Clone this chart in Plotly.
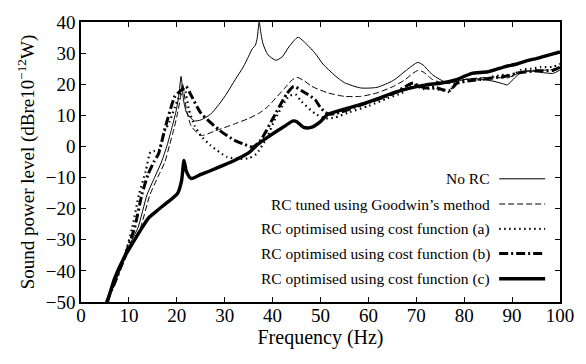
import plotly.graph_objects as go

# ---- data ----
f_norc = [5.4, 7, 8.9, 10.5, 11.9, 13.8, 15.5, 16.8, 18.0, 18.9, 19.8, 20.4, 20.9, 21.4, 22.0, 23.0, 23.7,
          25, 27, 28.8, 30.5, 32.2, 33.9, 35.0, 35.8, 36.4, 36.8, 37.2, 37.6, 38.0, 39.0, 40.7, 42.0, 43.4,
          45.3, 47.0, 48.9, 50.5, 53.0, 55.0, 58.4, 61.8, 65.2, 68.0, 70.3, 71.4, 73.4, 76.5, 78, 80, 82, 84,
          86, 88, 89, 90.5, 92, 94, 96, 98.6, 100]
v_norc = [-50, -44, -36.7, -30.5, -26.1, -15.5, -9.5, -5, 0.5, 5.6, 11, 16.1, 22.5, 15, 11, 9, 8.2,
          8.5, 10.3, 13.5, 17.2, 21.5, 25.6, 29, 31.5, 32.5, 35, 40, 36, 33, 29.5, 27.7, 28.8, 32,
          35.1, 33, 29.9, 26.5, 22.8, 20.5, 18.8, 19.0, 21.2, 24.6, 27, 26.2, 23, 20.4, 20.8, 21.5, 21.8, 21.5,
          21, 20.2, 19.8, 22, 24, 24.2, 23.8, 23.5, 24.6]

f_good = [5.4, 7, 9.1, 10.8, 12.4, 14.4, 16.0, 17.5, 18.5, 19.4, 20.2, 20.8, 21.2, 22.0, 23.0, 25.0, 28.0,
          31.8, 35.0, 37.3, 39.0, 40.7, 42.5, 44.1, 45.1, 46.5, 48.2, 51.6, 55.0, 58.4, 61.8, 65.2, 67.5,
          69.3, 70.3, 71.4, 73.4, 76.0, 78, 80, 83, 86, 89, 92, 95, 98, 100]
v_good = [-50, -44, -36.7, -30.5, -26.1, -15.5, -10, -5, 0.5, 5.6, 11, 16.1, 20.3, 12, 6.6, 3.5, 5,
          7.1, 9, 10.8, 12.8, 15.6, 18.7, 21.4, 22.2, 21.2, 19.3, 17.2, 16.1, 16.1, 17.2, 19.3, 21.3,
          23.5, 24.4, 24.0, 21.5, 20.2, 20.6, 21.5, 22, 22.3, 22, 24, 24.5, 24.6, 25.5]

f_a = [5.3, 7, 8.8, 10.7, 12.1, 13.5, 14.5, 15.2, 16.2, 17.5, 18.5, 20.2, 21.6, 22.5, 23.7, 25, 27, 30.5,
       33.2, 35, 36.6, 38.5, 40.7, 43.4, 44.8, 46, 48.9, 51, 53, 56, 60, 64, 67, 69, 70, 71, 73, 75.5, 76.8,
       78.2, 81.6, 84, 86, 88.4, 90, 91.8, 94, 96, 98.6, 100]
v_a = [-50, -44, -36.7, -26.1, -15.5, -8, -1.8, -1.5, -1.2, 5, 8, 15, 18.5, 12, 6.7, 3.5, 0.4, -3.4,
       -4, -3.8, -2.4, 2, 9.3, 16.1, 16.7, 14.5, 10.5, 9, 9.3, 11, 13, 15.5, 17.2, 19.5, 19.8, 18.5, 18.6, 18, 17.5,
       20.4, 21.4, 21.5, 22.5, 23, 22.7, 24.6, 25, 25.5, 25.6, 26.5]

f_b = [5.3, 7, 8.8, 11.2, 12.7, 14.0, 15.2, 16.2, 17.5, 19.6, 20.5, 21.9, 22.8, 25, 29, 32, 33.9, 35.9,
       37.5, 40.7, 43, 44.4, 46, 48.9, 50, 51.5, 53, 58.4, 65.2, 68, 69.3, 70.5, 72, 74, 75.5, 77, 78.5,
       81.6, 85, 88.4, 91.8, 95, 98.6, 100]
v_b = [-50, -44, -36.7, -26.1, -15.5, -9, -5, -2.3, 5.6, 16.1, 17.5, 19.3, 17, 10.8, 5.1, 2, 0.8, -0.2,
       2, 10.8, 17, 19.3, 18, 15, 12.5, 10.5, 10.5, 13.3, 17, 19.5, 20.4, 19.5, 18.8, 19, 18.2, 18, 20.3,
       21.2, 21.8, 22.5, 23.8, 24.3, 24.5, 25.5]

f_c = [5.5, 7, 9, 11, 12.8, 14.1, 16, 17.5, 19, 20.2, 21, 21.5, 22, 23, 25, 27, 29.8, 32, 35.2, 37,
       39, 42, 44.3, 45, 46.5, 48, 50, 51.5, 55, 58.4, 62, 65.2, 68, 72, 75, 78.2, 80, 81.6, 85, 88.4,
       91, 93, 95.2, 98, 100]
v_c = [-50, -42.5, -35.7, -30.5, -26, -23, -20.5, -18.6, -16.8, -15, -11, -4.5, -8, -10.3, -9, -7.8, -6,
       -4.5, -1.8, 0.8, 3, 6, 8.2, 8, 6.1, 6.1, 8, 10.3, 12, 13.5, 15.4, 17.2, 18.5, 19.8, 20.3, 21.4,
       22.5, 23.5, 24, 25.6, 26.5, 27.5, 28.3, 29.5, 30.4]

names = ["No RC", "RC tuned using Goodwin’s method", "RC optimised using cost function (a)",
         "RC optimised using cost function (b)", "RC optimised using cost function (c)"]
x_ticks = [0, 10, 20, 30, 40, 50, 60, 70, 80, 90, 100]
y_ticks = [-50, -40, -30, -20, -10, 0, 10, 20, 30, 40]

series = [(f_norc, v_norc), (f_good, v_good), (f_a, v_a), (f_b, v_b), (f_c, v_c)]
styles = [dict(width=1.0, dash="solid"),
          dict(width=1.0, dash="6px,3px"),
          dict(width=2.2, dash="1.5px,3.5px"),
          dict(width=3.0, dash="9px,3px,2px,3px"),
          dict(width=3.4, dash="solid")]

FONT = "Liberation Serif"
fig = go.Figure()
for (fx, fy), st, nm in zip(series, styles, names):
    fig.add_trace(go.Scatter(x=fx, y=fy, mode="lines", name=nm, showlegend=False,
                             line=dict(color="black", width=st["width"], dash=st["dash"],
                                       shape="spline", smoothing=0.6)))

# manual legend (text left of the line sample, as in the reference)
leg_y = [0.440, 0.350, 0.261, 0.173, 0.083]
for nm, st, yy in zip(names, styles, leg_y):
    fig.add_annotation(x=0.857, y=yy, xref="paper", yref="paper", text=nm, showarrow=False,
                       xanchor="right", yanchor="middle", font=dict(family=FONT, size=15.5, color="black"))
    fig.add_shape(type="line", x0=0.873, x1=0.969, y0=yy, y1=yy, xref="paper", yref="paper",
                  line=dict(color="black", width=st["width"], dash=st["dash"]))

axis_common = dict(showline=True, linecolor="black", linewidth=1.5, mirror="ticks", ticks="inside",
                   ticklen=5, tickcolor="black", tickwidth=1, showgrid=False, zeroline=False,
                   tickfont=dict(family=FONT, size=19, color="black"))
fig.update_xaxes(range=[0, 100], tickvals=x_ticks, ticklabelstandoff=-5,
                 title=dict(text="Frequency (Hz)", font=dict(family=FONT, size=20, color="black"), standoff=0),
                 **axis_common)
fig.update_yaxes(range=[-50, 40], tickvals=y_ticks,
                 title=dict(text="Sound power level (dBre10<sup>−12</sup>W)",
                            font=dict(family=FONT, size=19, color="black"), standoff=6),
                 **axis_common)
fig.update_layout(width=586, height=364, margin=dict(l=81, r=16, t=18, b=62),
                  plot_bgcolor="white", paper_bgcolor="white", showlegend=False,
                  font=dict(family=FONT, color="black"))
fig.write_html("out.html")
